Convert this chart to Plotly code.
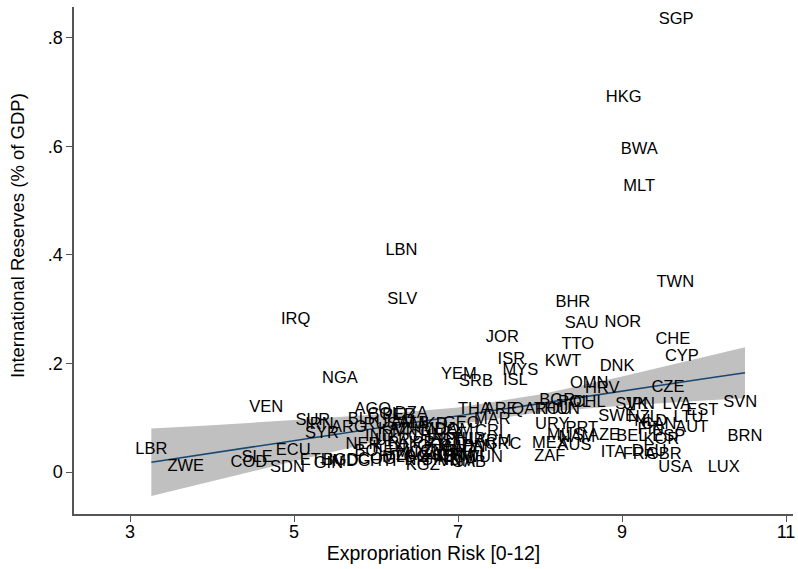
import plotly.graph_objects as go

# Country codes with expropriation risk (x) and reserves as share of GDP (y)
codes = [
    "SGP", "HKG", "BWA", "MLT", "LBN", "TWN", "SLV", "BHR", "IRQ", "SAU",
    "NOR", "JOR", "CHE", "TTO", "CYP", "ISR", "KWT", "DNK", "MYS", "YEM",
    "NGA", "SRB", "ISL", "OMN", "HRV", "CZE",
    "VEN", "AGO", "THA", "LVA", "SVN", "EST", "LTU", "AUT", "BRN", "LUX", "USA",
    "LBR", "ZWE", "SLE", "COD", "SDN", "ECU", "ETH", "GIN", "BGD", "MDG",
    "SUR", "IRN", "SYR", "ARG",
    "NER", "BOL", "COL", "PER", "DZA", "RUS", "KAZ", "CHN", "IND", "UKR",
    "PAK", "KEN", "CMR", "CIV", "MOZ", "TZA", "UGA", "ZMB", "MWI", "MLI",
    "SEN", "GHA", "TGO", "NIC", "HND", "GTM", "PRY", "PHL", "IDN", "LKA",
    "EGY", "TUR", "BRA", "PAN", "DOM", "JAM", "MNG", "GAB", "COG", "TUN",
    "ALB", "MKD", "MDA", "BLR", "HTI", "KGZ", "VNM", "CRI", "ARM", "GEO",
    "MAR", "GRC", "ARE", "QAT", "BGR", "ROU", "HUN", "POL", "CHL", "URY",
    "MEX", "AUS", "ZAF", "PRT", "MUS", "NAM", "AZE", "ITA", "FRA", "GBR",
    "BEL", "ESP", "NLD", "FIN", "SWE", "SVK", "JPN", "NZL", "CAN", "KOR", "DEU",
]
risk = [
    9.66, 9.02, 9.21, 9.21, 6.31, 9.65, 6.32, 8.40, 5.02, 8.51,
    9.01, 7.54, 9.62, 8.46, 9.73, 7.65, 8.28, 8.94, 7.76, 7.01,
    5.56, 7.22, 7.70, 8.60, 8.76, 9.56,
    4.66, 5.96, 7.20, 9.67, 10.44, 9.98, 9.81, 9.85, 10.50, 10.24, 9.65,
    3.26, 3.68, 4.55, 4.45, 4.92, 4.99, 5.27, 5.42, 5.57, 5.70,
    5.23, 5.31, 5.34, 5.67,
    5.84, 5.94, 6.10, 6.28, 6.43, 6.06, 6.22, 6.61, 6.04, 6.20,
    6.34, 6.16, 6.77, 6.95, 6.46, 6.31, 6.59, 6.74, 7.11, 6.24,
    6.89, 6.72, 6.43, 6.52, 6.82, 6.96, 6.65, 7.04, 7.16, 6.89,
    6.83, 7.13, 7.04, 7.26, 6.95, 6.28, 6.43, 7.13, 6.01, 7.34,
    6.46, 6.65, 6.77, 5.85, 6.09, 6.57, 6.99, 7.38, 7.43, 7.04,
    7.42, 7.55, 7.52, 7.85, 8.21, 8.16, 8.27, 8.42, 8.60, 8.15,
    8.12, 8.42, 8.12, 8.51, 8.31, 8.45, 8.78, 8.89, 9.21, 9.51,
    9.12, 9.57, 9.35, 9.35, 8.94, 9.12, 9.21, 9.26, 9.45, 9.48, 9.33,
]
reserves = [
    0.833, 0.689, 0.594, 0.525, 0.407, 0.348, 0.317, 0.312, 0.280, 0.273,
    0.275, 0.247, 0.243, 0.234, 0.212, 0.206, 0.203, 0.194, 0.186, 0.179,
    0.171, 0.166, 0.168, 0.162, 0.153, 0.155,
    0.118, 0.114, 0.114, 0.124, 0.127, 0.112, 0.100, 0.081, 0.065, 0.007, 0.007,
    0.041, 0.009, 0.026, 0.017, 0.007, 0.039, 0.020, 0.015, 0.020, 0.018,
    0.094, 0.087, 0.070, 0.081,
    0.050, 0.037, 0.105, 0.103, 0.107, 0.087, 0.077, 0.065, 0.065, 0.057,
    0.052, 0.044, 0.037, 0.044, 0.035, 0.029, 0.031, 0.026, 0.026, 0.026,
    0.028, 0.046, 0.026, 0.020, 0.020, 0.029, 0.052, 0.059, 0.044, 0.066,
    0.057, 0.059, 0.037, 0.046, 0.076, 0.090, 0.074, 0.017, 0.022, 0.026,
    0.088, 0.087, 0.077, 0.096, 0.018, 0.011, 0.018, 0.074, 0.055, 0.088,
    0.096, 0.050, 0.114, 0.114, 0.131, 0.114, 0.114, 0.127, 0.127, 0.087,
    0.052, 0.048, 0.028, 0.079, 0.066, 0.063, 0.066, 0.035, 0.031, 0.031,
    0.065, 0.065, 0.092, 0.077, 0.101, 0.124, 0.124, 0.100, 0.087, 0.059, 0.037,
]

# Linear fit with 95% confidence band
fit_x = [3.26, 4.0, 5.0, 6.0, 7.0, 8.0, 9.0, 10.0, 10.5]
fit_y = [0.018, 0.035, 0.058, 0.081, 0.103, 0.126, 0.149, 0.172, 0.183]
ci_lo = [-0.044, -0.017, 0.020, 0.056, 0.088, 0.110, 0.122, 0.132, 0.136]
ci_hi = [0.080, 0.086, 0.096, 0.106, 0.119, 0.143, 0.176, 0.212, 0.230]

x_ticks = [3, 5, 7, 9, 11]
y_ticks = [0, 0.2, 0.4, 0.6, 0.8]
y_tick_text = ["0", ".2", ".4", ".6", ".8"]

FONT = "Liberation Sans, Arial, Helvetica, sans-serif"

fig = go.Figure()

fig.add_trace(go.Scatter(
    x=fit_x + fit_x[::-1],
    y=ci_hi + ci_lo[::-1],
    fill="toself",
    fillcolor="rgb(192,192,192)",
    line=dict(width=0),
    mode="lines",
    hoverinfo="skip",
    showlegend=False,
))

fig.add_trace(go.Scatter(
    x=fit_x, y=fit_y,
    mode="lines",
    line=dict(color="#1a476f", width=1.6),
    showlegend=False,
))

fig.add_trace(go.Scatter(
    x=risk, y=reserves,
    mode="text",
    text=codes,
    textposition="middle center",
    textfont=dict(family=FONT, size=16.5, color="black"),
    showlegend=False,
))

axis_common = dict(
    showgrid=False,
    zeroline=False,
    showline=True,
    linecolor="#555555",
    linewidth=1.5,
    ticks="outside",
    ticklen=6,
    tickwidth=1.2,
    tickcolor="#555555",
    tickfont=dict(family=FONT, size=18, color="black"),
    automargin=False,
)

fig.update_xaxes(
    range=[2.317, 11.085],
    tickvals=x_ticks,
    ticklabelstandoff=-5,
    title=dict(text="Expropriation Risk [0-12]", font=dict(family=FONT, size=19.5, color="black"), standoff=0),
    **axis_common,
)
fig.update_yaxes(
    range=[-0.0774, 0.857],
    tickvals=y_ticks,
    ticktext=y_tick_text,
    **axis_common,
)

# Vertical y-axis title placed in the left margin
fig.add_annotation(
    text="International Reserves (% of GDP)",
    textangle=-90,
    xref="paper", yref="paper",
    x=(17 - 74) / 719, y=(514 - 236) / 507,
    xanchor="center", yanchor="middle",
    showarrow=False,
    font=dict(family=FONT, size=18.5, color="black"),
)

fig.update_layout(
    width=798,
    height=569,
    margin=dict(l=74, r=5, t=7, b=55),
    plot_bgcolor="white",
    paper_bgcolor="white",
)

fig.write_html("out.html")
